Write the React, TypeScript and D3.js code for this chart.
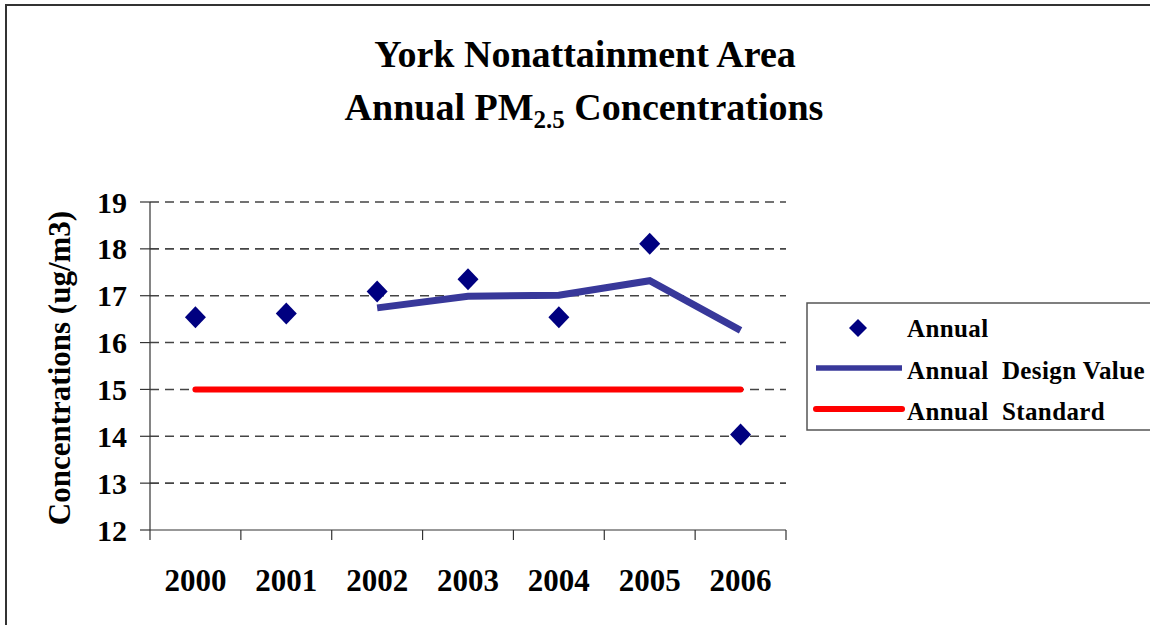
import React from "react";
import * as d3 from "d3";

const years = ["2000", "2001", "2002", "2003", "2004", "2005", "2006"];
const annualValues = [16.54, 16.62, 17.09, 17.35, 16.54, 18.11, 14.04];
const designValueYears = ["2002", "2003", "2004", "2005", "2006"];
const designValues = [16.74, 16.99, 17.01, 17.32, 16.26];
const standardValues = [15, 15, 15, 15, 15, 15, 15];
const yTicks = [12, 13, 14, 15, 16, 17, 18, 19];
const legendLabels = ["Annual", "Annual  Design Value", "Annual  Standard"];

const FONT = "'Liberation Serif', 'Times New Roman', serif";

export default function App() {
  const x = d3.scaleBand<string>().domain(years).range([150, 786]);
  const y = d3.scaleLinear().domain([12, 19]).range([530, 202]);
  const cx = (yr: string) => (x(yr) as number) + x.bandwidth() / 2;

  const designLine = d3
    .line<number>()
    .x((_, i) => cx(designValueYears[i]))
    .y((d) => y(d));
  const stdLine = d3
    .line<number>()
    .x((_, i) => cx(years[i]))
    .y((d) => y(d));

  const diamond = (px: number, py: number, w = 10.5, h = 11) =>
    `M${px},${py - h}L${px + w},${py}L${px},${py + h}L${px - w},${py}Z`;

  const boundaries = [...years.map((yr) => x(yr) as number), 786];

  return (
    <svg
      width={1150}
      height={625}
      style={{ position: "absolute", left: 0, top: 0, background: "#fff" }}
      fontFamily={FONT}
    >
      <rect x={0} y={0} width={1150} height={625} fill="#fff" />
      {/* outer chart border */}
      <rect x={6} y={5} width={1160} height={640} fill="none" stroke="#333" strokeWidth={2} />

      {/* title */}
      <text x={585} y={67} textAnchor="middle" fontSize={38} fontWeight="bold" fill="#000">
        York Nonattainment Area
      </text>
      <text x={584} y={120} textAnchor="middle" fontSize={38} fontWeight="bold" fill="#000">
        Annual PM
        <tspan fontSize={25} dy={8}>2.5</tspan>
        <tspan dy={-8}> Concentrations</tspan>
      </text>

      {/* gridlines */}
      {yTicks.filter((t) => t > 12).map((t) => (
        <line
          key={t}
          x1={150}
          x2={786}
          y1={y(t)}
          y2={y(t)}
          stroke="#444"
          strokeWidth={1.6}
          strokeDasharray="9,6"
        />
      ))}

      {/* y axis */}
      <line x1={150} x2={150} y1={y(19)} y2={y(12)} stroke="#333" strokeWidth={1.2} />
      {yTicks.map((t) => (
        <g key={t}>
          <line x1={140} x2={150} y1={y(t)} y2={y(t)} stroke="#333" strokeWidth={1.2} />
          <text
            x={127}
            y={y(t)}
            dy="0.35em"
            textAnchor="end"
            fontSize={30}
            fontWeight="bold"
            fill="#000"
          >
            {t}
          </text>
        </g>
      ))}

      {/* x axis */}
      <line x1={150} x2={786} y1={y(12)} y2={y(12)} stroke="#333" strokeWidth={1.2} />
      {boundaries.map((bx, i) => (
        <line key={i} x1={bx} x2={bx} y1={y(12)} y2={y(12) + 10} stroke="#333" strokeWidth={1.2} />
      ))}
      {years.map((yr) => (
        <text
          key={yr}
          x={cx(yr)}
          y={591}
          textAnchor="middle"
          fontSize={31}
          fontWeight="bold"
          fill="#000"
        >
          {yr}
        </text>
      ))}

      {/* y axis title */}
      <text
        transform="translate(70,368) rotate(-90)"
        textAnchor="middle"
        fontSize={31}
        fontWeight="bold"
        fill="#000"
      >
        Concentrations (ug/m3)
      </text>

      {/* standard line */}
      <path
        d={stdLine(standardValues) || ""}
        fill="none"
        stroke="#ff0000"
        strokeWidth={6}
        strokeLinecap="round"
      />

      {/* design value line */}
      <path
        d={designLine(designValues) || ""}
        fill="none"
        stroke="#38389a"
        strokeWidth={7}
        strokeLinejoin="miter"
      />

      {/* annual diamonds */}
      {annualValues.map((v, i) => (
        <path key={i} d={diamond(cx(years[i]), y(v))} fill="#000080" />
      ))}

      {/* legend */}
      <rect x={807} y={303} width={360} height={127} fill="#fff" stroke="#555" strokeWidth={1.5} />
      <path d={diamond(858, 328, 9, 9)} fill="#000080" />
      <line x1={816} x2={902} y1={368} y2={368} stroke="#38389a" strokeWidth={5.5} />
      <line x1={816} x2={902} y1={409} y2={409} stroke="#ff0000" strokeWidth={6} strokeLinecap="round" />
      {legendLabels.map((l, i) => (
        <text
          key={l}
          x={907}
          y={337 + i * 41.5}
          fontSize={25}
          fontWeight="bold"
          fill="#000"
          letterSpacing={0.4}
          style={{ whiteSpace: "pre" }}
        >
          {l}
        </text>
      ))}
    </svg>
  );
}
